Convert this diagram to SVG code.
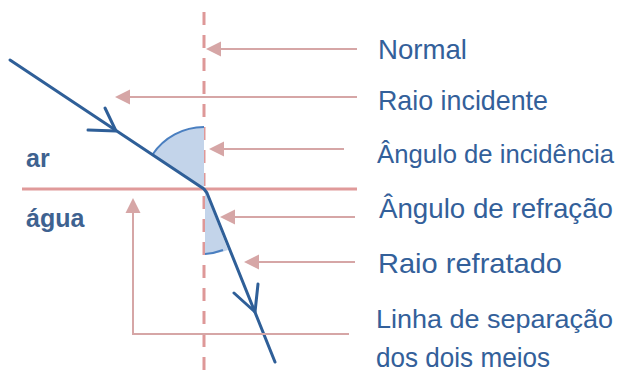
<svg xmlns="http://www.w3.org/2000/svg" width="623" height="378" viewBox="0 0 623 378">
<defs>
<style>
.lbl{font-family:"Liberation Sans","DejaVu Sans",sans-serif;font-size:28px;fill:#33609a}
.lbl.long{font-size:26px}
.med{font-family:"Liberation Sans","DejaVu Sans",sans-serif;font-size:25px;font-weight:bold;fill:#3e6290}
.ptr{stroke:#d6a6a6;stroke-width:2;fill:none}
.head{fill:#d6a6a6}
.ray{stroke:#2f5f98;stroke-width:3;fill:none;stroke-linecap:round;stroke-linejoin:round}
.ang{fill:#c3d4ea;stroke:none}
.arc{stroke:#4a7fc0;stroke-width:2;fill:none}
</style>
</defs>
<rect width="623" height="378" fill="#ffffff"/>
<g id="media">
<line x1="22" y1="189" x2="357" y2="189" stroke="#e09a9a" stroke-width="3"/>
<line id="normal-line" x1="204" y1="12" x2="204" y2="378" stroke="#de9898" stroke-width="3" stroke-dasharray="13 10"/>
</g>
<g id="angles">
<path class="ang" d="M204,189 L152.4,154.7 A62,62 0 0 1 204,127 Z"/>
<path class="arc" d="M152.4,154.7 A62,62 0 0 1 204,127"/>
<path class="ang" d="M205,190 L228,250 A64,64 0 0 1 205,254 Z"/>
<path class="arc" d="M223,250 A64,64 0 0 1 205,254"/>
</g>
<g id="rays">
<polyline class="ray" points="10,60 204,189 207,193 275,362"/>
<polyline class="ray" points="88,130 116,131 105,108"/>
<polyline class="ray" points="234,293 255,312 258,284"/>
</g>
<g id="connectors">
<line class="ptr" x1="357" y1="49" x2="218" y2="49"/>
<polygon class="head" points="206,49 221,41.5 221,56.5"/>
<line class="ptr" x1="357" y1="97" x2="127" y2="97"/>
<polygon class="head" points="115,97 130,89.5 130,104.5"/>
<line class="ptr" x1="344" y1="149" x2="221" y2="149"/>
<polygon class="head" points="209,149 224,141.5 224,156.5"/>
<line class="ptr" x1="355" y1="217" x2="232" y2="217"/>
<polygon class="head" points="220,217 235,209.5 235,224.5"/>
<line class="ptr" x1="355" y1="262" x2="256" y2="262"/>
<polygon class="head" points="244,262 259,254.5 259,269.5"/>
<polyline class="ptr" points="349,334 133,334 133,210"/>
<polygon class="head" points="133,198 125.5,213 140.5,213"/>
</g>
<g id="label-ar"><text class="med" x="26" y="167">ar</text></g>
<g id="label-agua"><text class="med" x="26" y="227">água</text></g>
<g id="label-normal"><text class="lbl" x="378" y="59" textLength="89" lengthAdjust="spacingAndGlyphs">Normal</text></g>
<g id="label-raio-incidente"><text class="lbl" x="378" y="110" textLength="170" lengthAdjust="spacingAndGlyphs">Raio incidente</text></g>
<g id="label-angulo-incidencia"><text class="lbl long" x="377" y="163" textLength="237" lengthAdjust="spacingAndGlyphs">Ângulo de incidência</text></g>
<g id="label-angulo-refracao"><text class="lbl" x="379" y="218" textLength="234" lengthAdjust="spacingAndGlyphs">Ângulo de refração</text></g>
<g id="label-raio-refratado"><text class="lbl" x="378" y="273" textLength="184" lengthAdjust="spacingAndGlyphs">Raio refratado</text></g>
<g id="label-linha">
<text class="lbl long" x="376" y="328" textLength="237" lengthAdjust="spacingAndGlyphs">Linha de separação</text>
<text class="lbl" x="376" y="367" textLength="174" lengthAdjust="spacingAndGlyphs">dos dois meios</text>
</g>
</svg>
